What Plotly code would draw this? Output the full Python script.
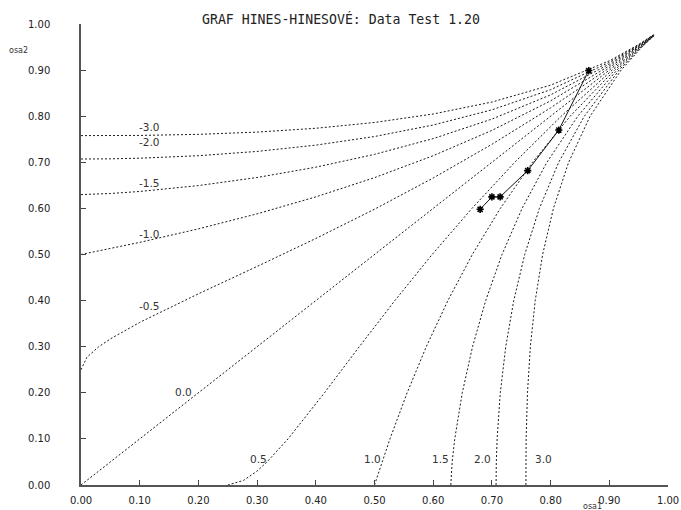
import plotly.graph_objects as go

# Shared abscissa grid (the "short" axis of each curve) and curve values for
# the power families |lambda| = 0.5 ... 2.5.
t_grid = [0.0, 0.01, 0.03, 0.05, 0.1, 0.2, 0.3, 0.4, 0.5, 0.6, 0.7, 0.8, 0.9, 0.95, 0.975]

g_05 = [0.2500, 0.2770, 0.2997, 0.3169, 0.3527, 0.4147, 0.4741, 0.5347, 0.5982,
        0.6660, 0.7390, 0.8181, 0.9048, 0.9512, 0.9753]
g_10 = [0.5000, 0.5025, 0.5076, 0.5128, 0.5263, 0.5556, 0.5882, 0.6250, 0.6667,
        0.7143, 0.7692, 0.8333, 0.9091, 0.9524, 0.9756]
g_15 = [0.6300, 0.6302, 0.6311, 0.6323, 0.6367, 0.6495, 0.6670, 0.6894, 0.7172,
        0.7514, 0.7937, 0.8463, 0.9130, 0.9535, 0.9759]
g_20 = [0.7071, 0.7071, 0.7073, 0.7075, 0.7089, 0.7143, 0.7236, 0.7372, 0.7559,
        0.7809, 0.8138, 0.8575, 0.9167, 0.9545, 0.9762]
g_25 = [0.7579, 0.7579, 0.7579, 0.7580, 0.7583, 0.7606, 0.7655, 0.7738, 0.7864,
        0.8048, 0.8307, 0.8673, 0.9201, 0.9556, 0.9765]
g_00 = [0.0, 0.01, 0.03, 0.05, 0.1, 0.2, 0.3, 0.4, 0.5, 0.6, 0.7, 0.8, 0.9, 0.95, 0.975]

curve_values = [g_25, g_20, g_15, g_10, g_05]

# Curve labels and where they sit
neg_labels = ["-3.0", "-2.0", "-1.5", "-1.0", "-0.5"]
pos_labels = ["3.0", "2.0", "1.5", "1.0", "0.5"]
zero_label = "0.0"
neg_label_pos = [(0.116, 0.777), (0.116, 0.744), (0.116, 0.655), (0.116, 0.544), (0.116, 0.388)]
pos_label_pos = [(0.788, 0.056), (0.684, 0.056), (0.612, 0.056), (0.496, 0.056), (0.302, 0.056)]
zero_label_pos = (0.174, 0.202)

# Data Test quantile pairs
osa1 = [0.680, 0.700, 0.714, 0.761, 0.814, 0.865]
osa2 = [0.598, 0.625, 0.625, 0.682, 0.770, 0.899]

tick_vals = [0.0, 0.1, 0.2, 0.3, 0.4, 0.5, 0.6, 0.7, 0.8, 0.9, 1.0]
tick_text = ["0.00", "0.10", "0.20", "0.30", "0.40", "0.50", "0.60", "0.70", "0.80", "0.90", "1.00"]

title_text = "GRAF HINES-HINESOVÉ: Data Test 1.20"

curve_line = dict(color="#1a1a1a", width=1, dash="2px,2px")

fig = go.Figure()

# Negative powers: curves leaving the osa2 axis
for g in curve_values:
    fig.add_trace(go.Scatter(x=t_grid, y=g, mode="lines", line=curve_line,
                             hoverinfo="skip", showlegend=False))
# Log (lambda = 0)
fig.add_trace(go.Scatter(x=g_00, y=t_grid, mode="lines", line=curve_line,
                         hoverinfo="skip", showlegend=False))
# Positive powers: curves leaving the osa1 axis
for g in curve_values:
    fig.add_trace(go.Scatter(x=g, y=t_grid, mode="lines", line=curve_line,
                             hoverinfo="skip", showlegend=False))

# Data points
fig.add_trace(go.Scatter(
    x=osa1, y=osa2, mode="lines+markers",
    line=dict(color="#111111", width=1),
    marker=dict(symbol="asterisk-open", size=6, color="#000000",
                line=dict(color="#000000", width=1.6)),
    showlegend=False, cliponaxis=False,
))

label_font = dict(family="DejaVu Sans", size=10.5, color="#333333")
for txt, (lx, ly) in zip(neg_labels, neg_label_pos):
    fig.add_annotation(x=lx, y=ly, text=txt, showarrow=False, font=label_font,
                       xanchor="center", yanchor="middle")
for txt, (lx, ly) in zip(pos_labels, pos_label_pos):
    fig.add_annotation(x=lx, y=ly, text=txt, showarrow=False, font=label_font,
                       xanchor="center", yanchor="middle")
fig.add_annotation(x=zero_label_pos[0], y=zero_label_pos[1], text=zero_label,
                   showarrow=False, font=label_font, xanchor="center", yanchor="middle")

# Title and axis names
fig.add_annotation(xref="paper", yref="paper", x=0.443, y=1.0108, text=title_text,
                   showarrow=False, xanchor="center", yanchor="middle",
                   font=dict(family="DejaVu Sans Mono", size=13.2, color="#222222"))
fig.add_annotation(xref="paper", yref="paper", x=-0.107, y=0.9436, text="osa2",
                   showarrow=False, xanchor="center", yanchor="middle",
                   font=dict(family="DejaVu Sans", size=8, color="#333333"))
fig.add_annotation(xref="paper", yref="paper", x=0.872, y=-0.0477, text="osa1",
                   showarrow=False, xanchor="center", yanchor="middle",
                   font=dict(family="DejaVu Sans", size=8, color="#333333"))

axis_common = dict(
    range=[0, 1], tickmode="array", tickvals=tick_vals, ticktext=tick_text,
    ticks="inside", ticklen=5, tickwidth=1.2, tickcolor="#444444",
    showline=True, linecolor="#555555", linewidth=1.5,
    showgrid=False, zeroline=False, fixedrange=True, automargin=False,
    tickfont=dict(family="DejaVu Sans", size=10, color="#222222"),
)

fig.update_layout(
    width=681, height=510,
    margin=dict(l=81, r=13, t=24, b=25),
    paper_bgcolor="white", plot_bgcolor="white",
    showlegend=False,
    xaxis=dict(**axis_common, ticklabelstandoff=5),
    yaxis=dict(**axis_common, ticklabelstandoff=27),
)

fig.write_html("out.html")
